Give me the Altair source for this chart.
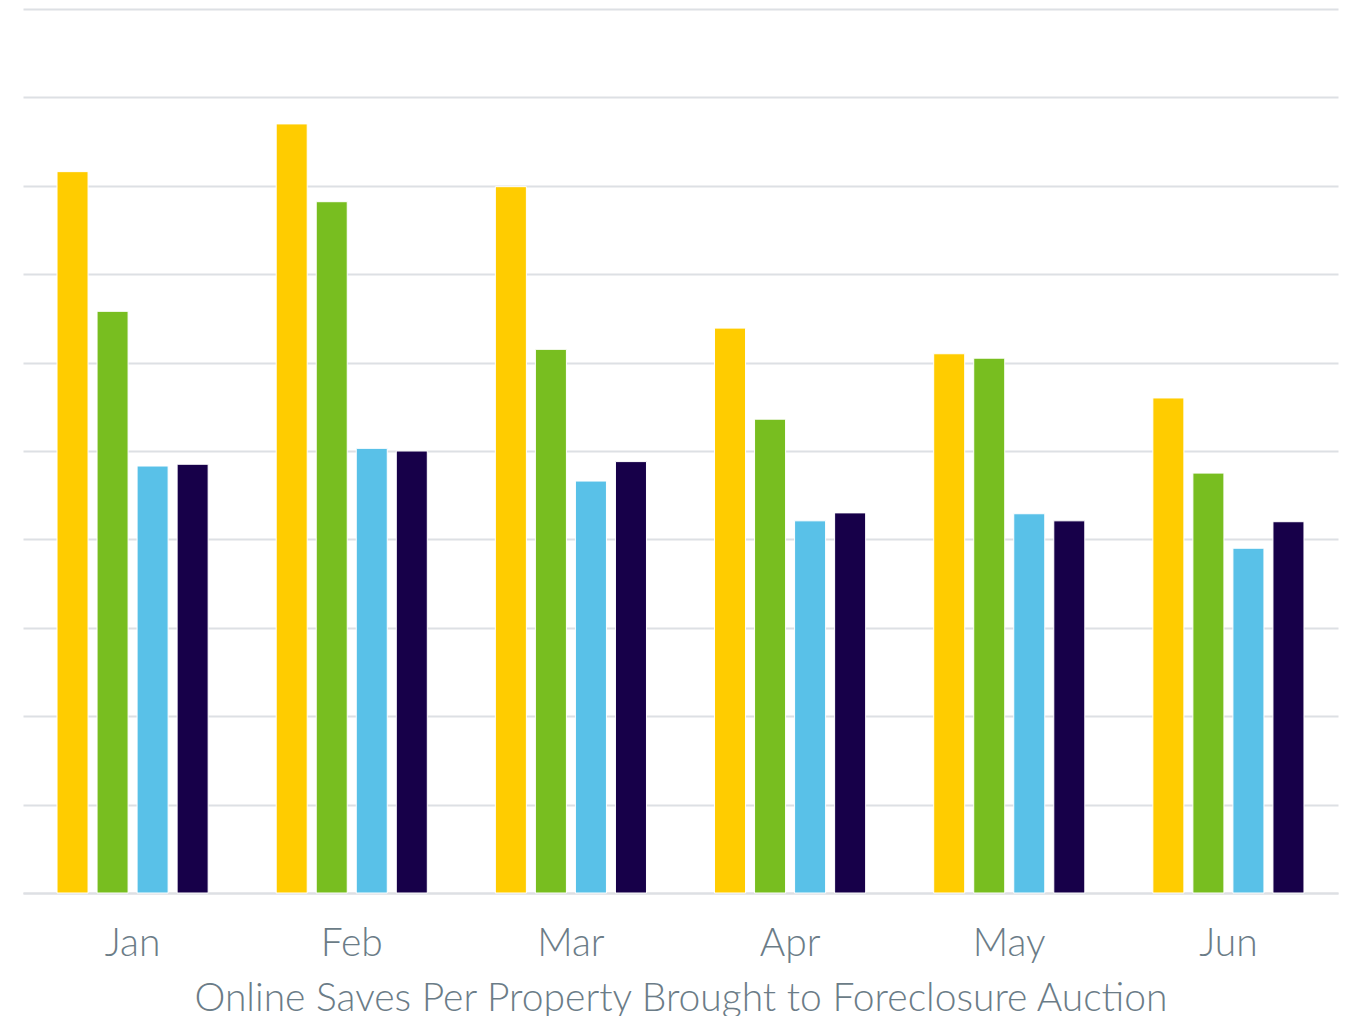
import altair as alt
import pandas as pd

months = ["Jan", "Feb", "Mar", "Apr", "May", "Jun"]
series = ["A", "B", "C", "D"]
colors = ["#FFCC00", "#78BE20", "#59C1E8", "#170049"]

vals_a = [8.16, 8.70, 7.99, 6.39, 6.10, 5.60]
vals_b = [6.58, 7.82, 6.15, 5.36, 6.05, 4.75]
vals_c = [4.83, 5.03, 4.66, 4.21, 4.29, 3.90]
vals_d = [4.85, 5.00, 4.88, 4.30, 4.21, 4.20]

rows = []
for s, vals in zip(series, [vals_a, vals_b, vals_c, vals_d]):
    for m, v in zip(months, vals):
        rows.append({"month": m, "series": s, "value": v})
df = pd.DataFrame(rows)

text_color = "#6B7C87"
font = "Lato"

chart = (
    alt.Chart(df)
    .mark_bar(stroke="white", strokeWidth=1)
    .encode(
        x=alt.X(
            "month:N",
            sort=months,
            scale=alt.Scale(paddingInner=0, paddingOuter=0),
            axis=alt.Axis(
                title="Online Saves Per Property Brought to Foreclosure Auction",
                labelAngle=0,
                labelFontSize=39,
                labelFontWeight=300,
                labelColor=text_color,
                labelFont=font,
                labelPadding=31,
                ticks=False,
                domainColor="#DDE0E4",
                domainWidth=2,
                titleFontSize=39,
                titleFont=font,
                titleFontWeight=300,
                titleColor=text_color,
                titlePadding=16,
            ),
        ),
        xOffset=alt.XOffset(
            "series:N",
            sort=series,
            scale=alt.Scale(paddingInner=0.225, paddingOuter=0.85),
        ),
        y=alt.Y(
            "value:Q",
            scale=alt.Scale(domain=[0, 10], nice=False),
            axis=alt.Axis(
                title=None,
                labels=False,
                ticks=False,
                domain=False,
                tickCount=10,
                gridColor="#DDE0E4",
                gridWidth=2,
            ),
        ),
        color=alt.Color(
            "series:N",
            sort=series,
            scale=alt.Scale(domain=series, range=colors),
            legend=None,
        ),
    )
    .properties(
        width=1315,
        height=884,
        padding={"left": 23, "top": 9, "right": 10, "bottom": 0},
    )
    .configure_view(stroke=None)
)

chart.save("out.html", embed_options={"renderer": "svg", "actions": False})
